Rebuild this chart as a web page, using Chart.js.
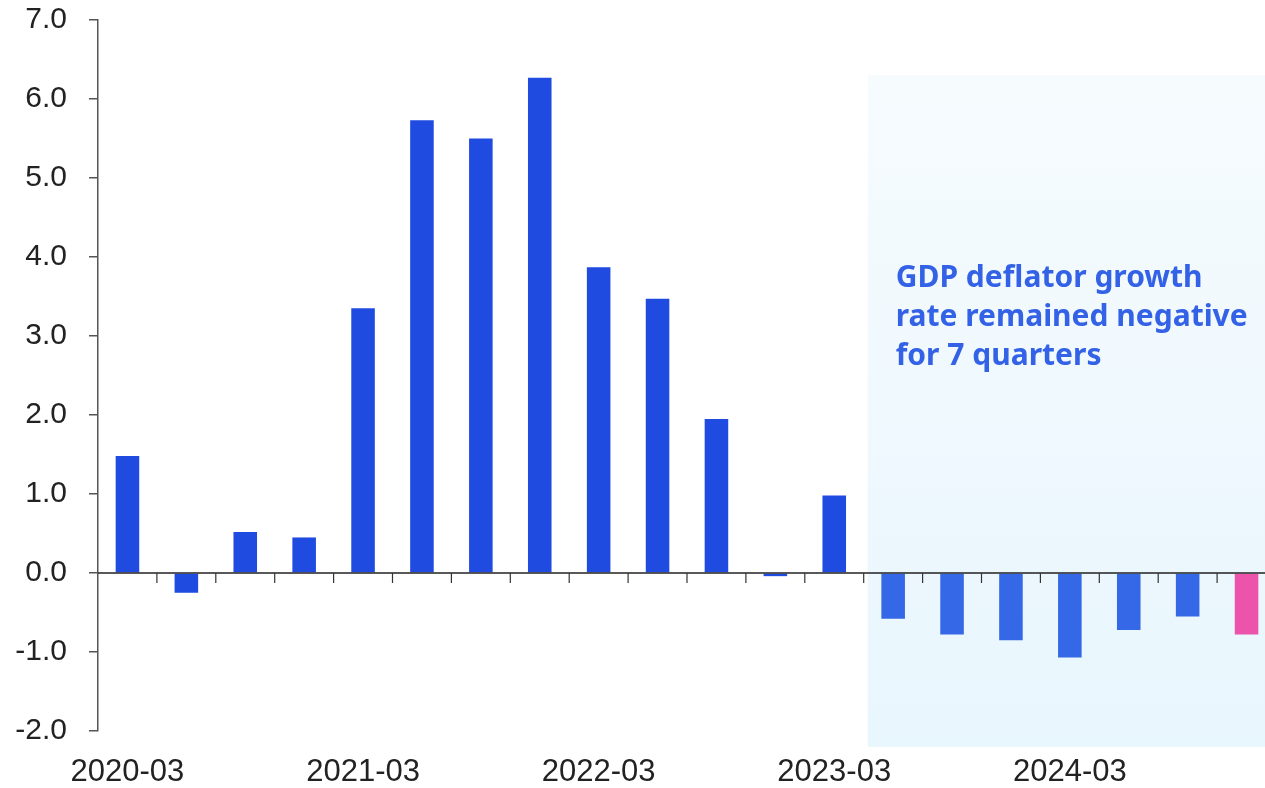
<!DOCTYPE html>
<html>
<head>
<meta charset="utf-8">
<script src="https://cdn.jsdelivr.net/npm/chart.js@4/dist/chart.umd.min.js"></script>
<style>
  html, body { margin: 0; padding: 0; background: #fff; overflow: hidden; }
  #wrap { position: relative; width: 1276px; height: 788px; }
</style>
</head>
<body>
<div id="wrap"><canvas id="deflatorChart"></canvas></div>
<script>
// quarterly GDP deflator growth, % y/y
const quarters = [
  '2020-03', '2020-06', '2020-09', '2020-12',
  '2021-03', '2021-06', '2021-09', '2021-12',
  '2022-03', '2022-06', '2022-09', '2022-12',
  '2023-03', '2023-06', '2023-09', '2023-12',
  '2024-03', '2024-06', '2024-09', '2024-12'
];
const growth = [
  1.48, -0.25, 0.52, 0.45,
  3.35, 5.73, 5.50, 6.27,
  3.87, 3.47, 1.95, -0.04,
  0.98, -0.58, -0.78, -0.85,
  -1.07, -0.72, -0.55, -0.78
];
const yTicks = [-2, -1, 0, 1, 2, 3, 4, 5, 6, 7];
const noteLines = ['GDP deflator growth', 'rate remained negative', 'for 7 quarters'];

const firstNegQuarter = 13; // start of the negative run

const barColors = growth.map((v, i) => {
  if (i === growth.length - 1) return '#ec53ab';
  return i >= firstNegQuarter ? '#3468e6' : '#1f4be1';
});

// shaded box behind the negative run, plus the note text
const shadePlugin = {
  id: 'shade',
  beforeDatasetsDraw(chart, args, opts) {
    const { ctx, scales: { x, y } } = chart;
    const step = x.getPixelForValue(1) - x.getPixelForValue(0);
    const left = x.getPixelForValue(opts.from) - step / 2 + 4;
    const right = chart.width;
    const top = y.getPixelForValue(opts.top);
    const bottom = y.getPixelForValue(opts.bottom);
    const g = ctx.createLinearGradient(0, top, 0, bottom);
    g.addColorStop(0, '#f6fbfe');
    g.addColorStop(1, '#e8f6fd');
    ctx.save();
    ctx.fillStyle = g;
    ctx.fillRect(left, top, right - left, bottom - top);
    ctx.fillStyle = '#3462e6';
    ctx.font = 'bold 30px "Noto Sans", Roboto, sans-serif';
    ctx.textBaseline = 'middle';
    opts.lines.forEach((t, i) => {
      ctx.fillText(t, left + 28, y.getPixelForValue(opts.textY) + i * 39);
    });
    ctx.restore();
  },
  // zero line with quarter tick marks
  afterDatasetsDraw(chart) {
    const { ctx, chartArea, scales: { x, y } } = chart;
    const y0 = y.getPixelForValue(0);
    const step = x.getPixelForValue(1) - x.getPixelForValue(0);
    ctx.save();
    ctx.strokeStyle = '#222';
    ctx.lineWidth = 1.5;
    ctx.beginPath();
    ctx.moveTo(chartArea.left, y0);
    ctx.lineTo(chart.width, y0);
    ctx.stroke();
    ctx.lineWidth = 1.2;
    ctx.strokeStyle = '#333';
    for (let i = 0; i < quarters.length; i++) {
      const px = x.getPixelForValue(i) + step / 2;
      ctx.beginPath();
      ctx.moveTo(px, y0);
      ctx.lineTo(px, y0 + 10);
      ctx.stroke();
    }
    ctx.restore();
  }
};

new Chart(document.getElementById('deflatorChart'), {
  type: 'bar',
  data: {
    labels: quarters,
    datasets: [{
      data: growth,
      backgroundColor: barColors,
      borderWidth: 0,
      barPercentage: 0.4,
      categoryPercentage: 1
    }]
  },
  plugins: [shadePlugin],
  options: {
    responsive: true,
    maintainAspectRatio: false,
    animation: false,
    layout: { padding: { top: 20, right: 0, left: 0, bottom: 0 } },
    plugins: {
      legend: { display: false },
      tooltip: { enabled: false },
      shade: { from: firstNegQuarter, top: 6.3, bottom: -2.2, textY: 3.73, lines: noteLines }
    },
    scales: {
      x: {
        grid: { display: false },
        border: { display: false },
        afterFit: (s) => { s.height = 57; s.paddingLeft = 0; s.paddingRight = 0; },
        ticks: {
          autoSkip: false,
          maxRotation: 0,
          padding: 15,
          color: '#222',
          font: { family: '"Liberation Sans", Arial, sans-serif', size: 31 },
          callback: (v, i) => (i % 4 === 0 ? quarters[i] : '')
        }
      },
      y: {
        min: -2,
        max: 7,
        afterBuildTicks: (s) => { s.ticks = yTicks.map(v => ({ value: v })); },
        afterFit: (s) => { s.width = 98; s.paddingTop = 0; s.paddingBottom = 0; },
        grid: { drawOnChartArea: false, tickLength: 9, color: '#555', lineWidth: 1.5 },
        border: { display: true, color: '#555', width: 1.5 },
        ticks: {
          padding: 22,
          color: '#222',
          font: { family: '"Liberation Sans", Arial, sans-serif', size: 30 },
          callback: (v) => Number(v).toFixed(1)
        }
      }
    }
  }
});
</script>
</body>
</html>
